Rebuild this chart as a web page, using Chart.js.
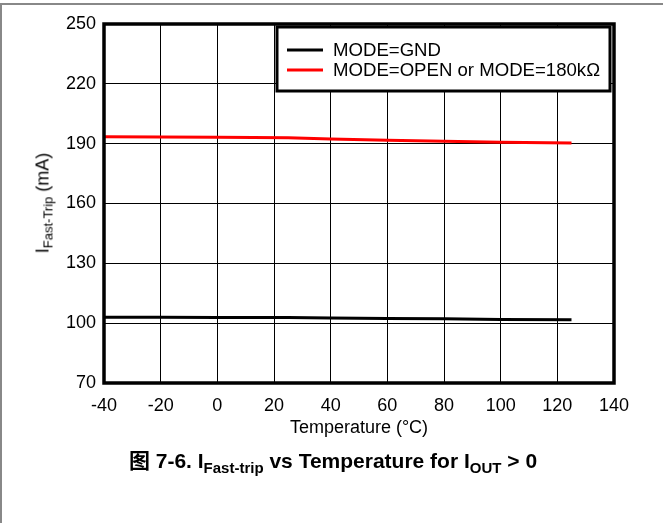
<!DOCTYPE html>
<html>
<head>
<meta charset="utf-8">
<script src="https://cdn.jsdelivr.net/npm/chart.js@4.4.1/dist/chart.umd.min.js"></script>
<style>
  html, body { margin:0; padding:0; background:#fff; }
  #wrap { position:relative; width:663px; height:523px; overflow:hidden; box-sizing:border-box;
          border-top:2px solid #888; border-left:2px solid #888; margin-top:3px; height:520px; }
  canvas { position:absolute; left:-2px; top:-5px; }
  .txt { position:absolute; font-family:"Liberation Sans", Arial, "Noto Sans CJK SC", sans-serif; color:#000; white-space:nowrap; }
  #ytitle { left:41px; top:198px; font-size:18px; transform:translate(-50%,-50%) rotate(-90deg); }
  #ytitle sub { font-size:13px; vertical-align:-4px; line-height:0; }
  #caption sub { font-size:15px; vertical-align:-5px; line-height:0; }
  #caption { left:331px; top:454px; font-size:21px; font-weight:bold; transform:translate(-50%,-50%); }
</style>
</head>
<body>
<div id="wrap">
  <canvas id="c" width="663" height="523"></canvas>
  <div class="txt" id="ytitle">I<sub>Fast-Trip</sub> (mA)</div>
  <div class="txt" id="caption"><span style="font-family:'Noto Sans CJK SC'">图</span> 7-6. I<sub>Fast-trip</sub> vs Temperature for I<sub>OUT</sub> &gt; 0</div>
</div>
<script>
const temps = [-40, -20, 0, 25, 40, 60, 80, 100, 125];
const modeGnd = [103.0, 103.0, 102.9, 102.8, 102.6, 102.4, 102.2, 101.9, 101.7];
const modeOpen = [193.5, 193.3, 193.2, 193.0, 192.4, 191.7, 191.2, 190.7, 190.3];
const seriesLabels = ["MODE=GND", "MODE=OPEN or MODE=180kΩ"];
const xTicks = [-40, -20, 0, 20, 40, 60, 80, 100, 120, 140];
const yTicks = [70, 100, 130, 160, 190, 220, 250];

const FONT = "'Liberation Sans', Arial, sans-serif";

const framePlugin = {
  id: 'frame',
  afterDatasetsDraw(chart) {
    const ctx = chart.ctx, a = chart.chartArea;
    ctx.save();
    ctx.strokeStyle = '#000';
    ctx.lineWidth = 3.5;
    ctx.strokeRect(a.left, a.top, a.right - a.left, a.bottom - a.top);
    // legend box
    const bx = 277, by = 27, bw = 333, bh = 64;
    ctx.fillStyle = '#fff';
    ctx.fillRect(bx, by, bw, bh);
    ctx.lineWidth = 3;
    ctx.strokeRect(bx, by, bw, bh);
    ctx.font = "18.6px " + FONT;
    ctx.textBaseline = 'middle';
    ctx.textAlign = 'left';
    chart.data.datasets.forEach((ds, i) => {
      const y = 50 + i * 20;
      ctx.strokeStyle = ds.borderColor;
      ctx.lineWidth = 3;
      ctx.beginPath();
      ctx.moveTo(287, y);
      ctx.lineTo(323, y);
      ctx.stroke();
      ctx.fillStyle = '#000';
      ctx.fillText(ds.label, 333, y + 1);
    });
    ctx.restore();
  }
};

new Chart(document.getElementById('c'), {
  type: 'line',
  data: {
    datasets: [
      { label: seriesLabels[0], data: temps.map((t, i) => ({x: t, y: modeGnd[i]})),
        borderColor: '#000', borderWidth: 3, pointRadius: 0, tension: 0, fill: false },
      { label: seriesLabels[1], data: temps.map((t, i) => ({x: t, y: modeOpen[i]})),
        borderColor: '#ff0000', borderWidth: 3, pointRadius: 0, tension: 0, fill: false }
    ]
  },
  options: {
    responsive: false,
    animation: false,
    devicePixelRatio: 1,
    layout: { padding: { left: 0, top: 24, right: 49, bottom: 80 } },
    plugins: { legend: { display: false }, tooltip: { enabled: false } },
    scales: {
      x: {
        type: 'linear', min: xTicks[0], max: xTicks[xTicks.length - 1],
        afterBuildTicks: s => { s.ticks = xTicks.map(v => ({value: v})); },
        afterFit: s => { s.height = 60; },
        grid: { color: '#000', lineWidth: 1, drawTicks: false },
        border: { display: false },
        ticks: { color: '#000', padding: 12, font: { size: 18, family: FONT }, maxRotation: 0, autoSkip: false },
        title: { display: true, text: 'Temperature (°C)', color: '#000', font: { size: 18, family: FONT }, padding: { top: 0, bottom: 4 } }
      },
      y: {
        type: 'linear', min: yTicks[0], max: yTicks[yTicks.length - 1],
        afterBuildTicks: s => { s.ticks = yTicks.map(v => ({value: v})); },
        afterFit: s => { s.width = 104; },
        grid: { color: '#000', lineWidth: 1, drawTicks: false },
        border: { display: false },
        ticks: { color: '#000', padding: 8, font: { size: 18, family: FONT }, autoSkip: false }
      }
    }
  },
  plugins: [framePlugin]
});
</script>
</body>
</html>
